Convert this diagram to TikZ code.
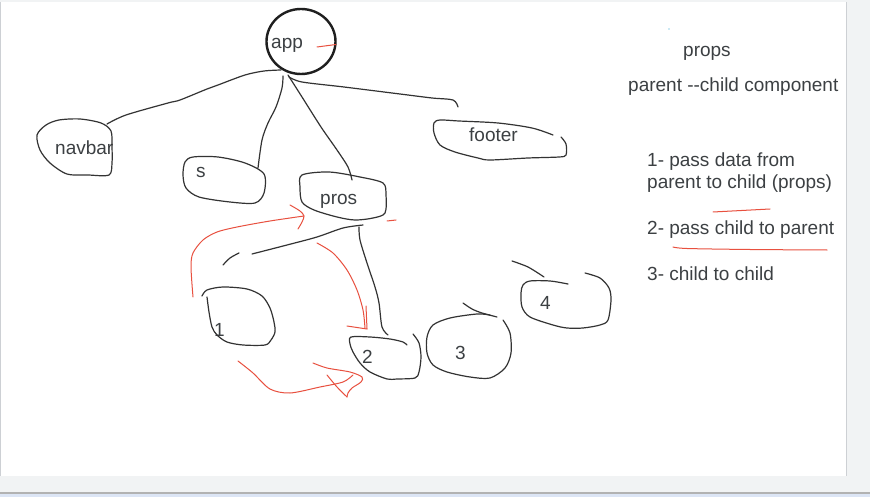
\documentclass[tikz,border=0pt]{standalone}
\usepackage{fontspec}
\setmainfont{Liberation Sans}
\definecolor{ink}{HTML}{333333}
\definecolor{pen}{HTML}{E8503F}
\definecolor{txt}{HTML}{3C4043}
\definecolor{bgray}{HTML}{F1F3F4}
\definecolor{edgegray}{HTML}{CDD0D4}
\definecolor{barblue}{HTML}{DCE5F5}
\begin{document}
\begin{tikzpicture}[x=1pt,y=-1pt,
  ink/.style={draw=ink, line width=1.2pt, line cap=round, line join=round},
  redpen/.style={draw=pen, line width=1pt, line cap=round, line join=round},
  lbl/.style={anchor=base west, inner sep=0pt, text=txt, font=\fontsize{19}{22}\selectfont},
]
\useasboundingbox (0,0) rectangle (870,497);
% page background
\fill[bgray] (0,0) rectangle (870,497);
\fill[white] (1,2) rectangle (846,476);
\draw[edgegray, line width=1pt] (846.5,2) -- (846.5,476);
\draw[edgegray, line width=0.8pt] (0.5,2) -- (0.5,476);
\draw[black!30, line width=1.2pt] (0,493) -- (870,493);
\fill[barblue] (0,494) rectangle (870,497);

% labels
\node[lbl] (app) at (271,49) {app};
\node[lbl] (navbar) at (55,155) {navbar};
\node[lbl] (footer) at (469,141.5) {footer};
\node[lbl] (s) at (196,178) {s};
\node[lbl] (pros) at (320,205) {pros};
\node[lbl] (c1) at (214,336) {1};
\node[lbl] (c2) at (362,363) {2};
\node[lbl] (c3) at (455,359) {3};
\node[lbl] (c4) at (540,309) {4};
\node[lbl] (props) at (683,57) {props};
\node[lbl] (pcc) at (628,92) {parent -{}-child component};
\node[lbl] (l1a) at (647,167) {1- pass data from};
\node[lbl] (l1b) at (647,189) {parent to child (props)};
\node[lbl] (l2) at (647,235) {2- pass child to parent};
\node[lbl] (l3) at (647,280) {3- child to child};

% app circle
\draw[draw=black!88, line width=2.4pt] (301,41.5) ellipse [x radius=34.5, y radius=32.5];
\draw[redpen] (317,47) -- (336,44.5);

% blobs
\draw[ink] plot[smooth cycle] coordinates {(59,120) (80,119) (101,123) (111,131) (112,147) (112,163) (109,175) (88,175) (67,174) (50,163) (40,150) (37,135) (46,125)};
\draw[ink] plot[smooth cycle] coordinates {(193,157) (218,157) (245,163) (264,174) (264,193) (255,203) (230,202) (199,197) (186,188) (183,175) (185,162)};
\draw[ink] plot[smooth cycle] coordinates {(302,175) (329,172) (360,177) (383,183) (386,195) (385,213) (373,218) (355,220) (337,217) (314,210) (302,202) (300,187)};
\draw[ink] plot[smooth] coordinates {(561,137) (566,144) (566,155) (559,157) (528,158) (490,160) (478,158) (455,152) (440,145) (434,133) (434,123) (440,120) (459,121) (498,123) (532,128) (553,135)};
\draw[ink] plot[smooth] coordinates {(202,296) (207,290) (223,287) (247,289) (262,296) (270,308) (274,322) (275,332) (271,340) (265,345) (243,345) (227,342) (217,335) (212,327) (209,312) (207,297)};
\draw[ink] plot[smooth] coordinates {(407,345) (403,342) (390,339) (370,337) (351,337) (350,344) (353,352) (360,363) (370,372) (387,379) (397,379) (415,378) (419,372) (421,357) (419,343) (413,334)};
\draw[ink] plot[smooth] coordinates {(463,303) (472,309) (482,313) (497,317)};
\draw[ink] plot[smooth] coordinates {(503,320) (510,333) (511,353) (505,368) (490,378) (470,377) (447,372) (433,365) (427,353) (427,337) (433,325) (450,318) (477,314) (490,315)};
\draw[ink] plot[smooth] coordinates {(512,261) (528,267) (544,277)};
\draw[ink] plot[smooth] coordinates {(585,273) (600,278) (609,288) (611,300) (608,320) (600,325) (583,328) (567,328) (553,325) (530,317) (522,307) (521,293) (523,285) (530,281) (550,281) (568,284)};

% connector end points
\coordinate (appNav) at (281,70);
\coordinate (navTop) at (107,124);
\coordinate (appS) at (283,76);
\coordinate (sTop) at (258,168);
\coordinate (appPros) at (288,75);
\coordinate (prosTop) at (352,180);
\coordinate (appFoot) at (289,77);
\coordinate (footTop) at (458,107);
\coordinate (prosBot) at (363,225);
\coordinate (oneTop) at (223,265);
\coordinate (prosBotB) at (359,227);
\coordinate (twoTop) at (388,335);

% black connectors
\draw[ink] plot[smooth] coordinates {(appNav) (264,71) (245,75) (218,85) (207,89) (180,100) (168,103) (126,115) (navTop)};
\draw[ink] plot[smooth] coordinates {(appS) (282,88) (276,107) (268,123) (262,140) (sTop)};
\draw[ink] plot[smooth] coordinates {(appPros) (302,97) (321,127) (337,150) (348,167) (prosTop)};
\draw[ink] plot[smooth] coordinates {(appFoot) (302,82) (344,87) (400,94) (432,98) (453,100) (footTop)};
\draw[ink] plot[smooth] coordinates {(prosBot) (343,228) (317,237) (287,245) (252,254)};
\draw[ink] plot[smooth] coordinates {(239,253) (230,258) (oneTop)};
\draw[ink] plot[smooth] coordinates {(prosBotB) (360,240) (367,263) (375,287) (379,303) (382,327) (twoTop)};

% red arrows
\draw[redpen] plot[smooth] coordinates {(193,297) (191,267) (193,253) (203,240) (217,232) (237,227) (270,221) (304,216)};
\draw[redpen] plot[smooth] coordinates {(290,205) (300,211) (304,216) (302,222) (298,229)};
\draw[redpen] plot[smooth] coordinates {(317,243) (333,253) (347,270) (357,290) (363,310) (365,328)};
\draw[redpen] (366,306) -- (367,329);
\draw[redpen] (347,326) -- (367,329);
\draw[redpen] plot[smooth] coordinates {(238,361) (253,373) (270,389) (290,393) (320,387) (343,382) (353,375)};
\draw[redpen] plot[smooth] coordinates {(313,363) (327,368) (350,372) (362,377) (361,382) (352,388) (348,393) (347,397)};
\draw[redpen] plot[smooth] coordinates {(347,397) (337,387) (327,375)};
\draw[redpen] (387,221) -- (396,220);

% underlines
\draw[redpen] (713,212) -- (770,209);
\draw[redpen] plot[smooth] coordinates {(673,247) (687,248.5) (750,249.5) (827,250)};
\fill[cyan!70!teal] (669,29) circle (0.6);
\end{tikzpicture}
\end{document}
